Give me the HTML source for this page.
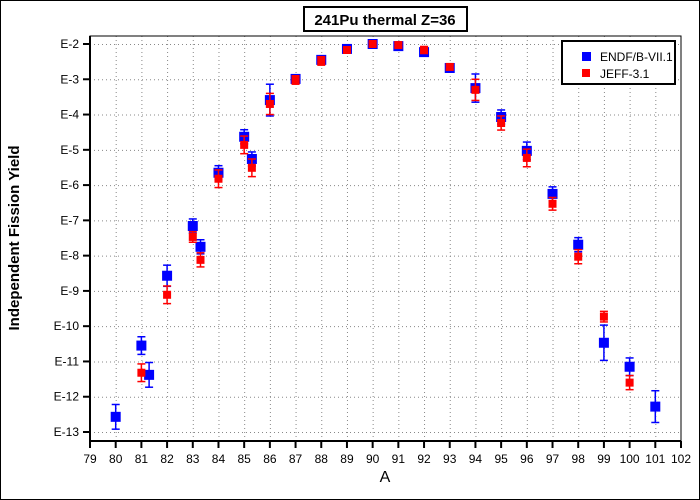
<!DOCTYPE html>
<html><head><meta charset="utf-8"><style>
body{margin:0;background:#fff;}
#wrap{position:relative;width:700px;height:500px;box-sizing:border-box;border:1px solid #000;background:#fff;font-family:"Liberation Sans",sans-serif;}
svg text{font-family:"Liberation Sans",sans-serif;}
</style></head><body>
<div id="wrap">
<svg id="chart" width="700" height="500" style="position:absolute;left:-1px;top:-1px"></svg>
</div>
<script>
const xTicks=[79,80,81,82,83,84,85,86,87,88,89,90,91,92,93,94,95,96,97,98,99,100,101,102];
const yTickExps=[-2,-3,-4,-5,-6,-7,-8,-9,-10,-11,-12,-13];
const yTickLabels=["E-2","E-3","E-4","E-5","E-6","E-7","E-8","E-9","E-10","E-11","E-12","E-13"];
const endfA=[80,81,81.3,82,83,83.3,84,85,85.3,86,87,88,89,90,91,92,93,94,95,96,97,98,99,100,101];
const endfLog=[-12.57,-10.55,-11.38,-8.57,-7.16,-7.75,-5.65,-4.63,-5.26,-3.59,-2.99,-2.45,-2.14,-2.0,-2.06,-2.23,-2.68,-3.25,-4.07,-5.03,-6.25,-7.69,-10.47,-11.15,-12.28];
const endfErr=[0.35,0.25,0.35,0.3,0.2,0.2,0.2,0.2,0.2,0.45,0.1,0.1,0.05,0.05,0.05,0.08,0.1,0.4,0.2,0.25,0.2,0.2,0.5,0.25,0.45];
const jeffA=[81,82,83,83.3,84,85,85.3,86,87,88,89,90,91,92,93,94,95,96,97,98,99,100];
const jeffLog=[-11.32,-9.11,-7.47,-8.12,-5.82,-4.86,-5.51,-3.7,-3.02,-2.48,-2.17,-2.0,-2.03,-2.17,-2.65,-3.3,-4.24,-5.23,-6.53,-8.03,-9.73,-11.6];
const jeffErr=[0.25,0.25,0.15,0.2,0.25,0.25,0.25,0.3,0.12,0.12,0.06,0.04,0.05,0.1,0.08,0.3,0.2,0.25,0.18,0.2,0.15,0.2];

const NS="http://www.w3.org/2000/svg";
const svg=document.getElementById('chart');
const L=90,R=681,T=36,B=441;
const xS=a=>L+(a-79)*(R-L)/23;
const yS=e=>44+(-2-e)*(432-44)/11;
function mk(tag,attrs,parent){const el=document.createElementNS(NS,tag);for(const k in attrs)el.setAttribute(k,attrs[k]);(parent||svg).appendChild(el);return el;}

const tb=mk('rect',{x:304,y:7,width:163,height:24,fill:'#fff',stroke:'#000','stroke-width':2});


const tt=mk('text',{x:385,y:25,'text-anchor':'middle','font-size':15,'font-weight':'bold'});
tt.textContent='241Pu thermal Z=36';



const grid=mk('g',{stroke:'#888','stroke-width':1,'stroke-dasharray':'1,3'});


xTicks.forEach(t=>{if(t>79&&t<102)mk('line',{x1:xS(t)+.5,x2:xS(t)+.5,y1:T,y2:B},grid);});
yTickExps.forEach(e=>mk('line',{x1:L,x2:R,y1:yS(e)+.5,y2:yS(e)+.5},grid));

const fr=mk('rect',{x:L,y:T,width:R-L,height:B-T,fill:'none',stroke:'#000','stroke-width':1});


mk('line',{x1:L,x2:L,y1:T,y2:B,stroke:'#000','stroke-width':2});
mk('line',{x1:L,x2:R,y1:B,y2:B,stroke:'#000','stroke-width':2});

const xa=mk('g',{});


xTicks.forEach(t=>{
  mk('line',{x1:xS(t),x2:xS(t),y1:B,y2:B+7,stroke:'#000','stroke-width':2},xa);
  const tx=mk('text',{x:xS(t),y:B+22,'text-anchor':'middle','font-size':12},xa);
  tx.textContent=t;
  
  
});
const ya=mk('g',{});


yTickExps.forEach((e,i)=>{
  mk('line',{x1:L-7,x2:L,y1:yS(e),y2:yS(e),stroke:'#000','stroke-width':2},ya);
  const tx=mk('text',{x:L-11,y:yS(e)+4,'text-anchor':'end','font-size':12},ya);
  tx.textContent=yTickLabels[i];
  
  
});
const xl=mk('text',{x:385,y:482,'text-anchor':'middle','font-size':16});
xl.textContent='A';


const yl=mk('text',{x:0,y:0,'text-anchor':'middle','font-size':15,'font-weight':'bold',transform:'translate(19,238) rotate(-90)'});
yl.textContent='Independent Fission Yield';



function series(A,Lg,Er,color,size,name){
  const g=mk('g',{});
  
  
  A.forEach((a,i)=>{
    const x=xS(a),y=yS(Lg[i]),y1=yS(Lg[i]+Er[i]),y2=yS(Lg[i]-Er[i]);
    mk('line',{x1:x,x2:x,y1:y1,y2:y2,stroke:color,'stroke-width':1.5},g);
    mk('line',{x1:x-4,x2:x+4,y1:y1,y2:y1,stroke:color,'stroke-width':1.5},g);
    mk('line',{x1:x-4,x2:x+4,y1:y2,y2:y2,stroke:color,'stroke-width':1.5},g);
    const r=mk('rect',{x:x-size/2,y:y-size/2,width:size,height:size,fill:color},g);
    
    
  });
}
series(endfA,endfLog,endfErr,'#0000ff',10,'endf');
series(jeffA,jeffLog,jeffErr,'#ff0000',8,'jeff');

const lg=mk('g',{});


mk('rect',{x:562,y:41,width:113,height:43,fill:'#fff',stroke:'#000','stroke-width':2},lg);
mk('rect',{x:582,y:52,width:9,height:9,fill:'#0000ff'},lg);
const l1=mk('text',{x:600,y:61,'font-size':12},lg);l1.textContent='ENDF/B-VII.1';


mk('rect',{x:582,y:69,width:8,height:8,fill:'#ff0000'},lg);
const l2=mk('text',{x:600,y:78,'font-size':12},lg);l2.textContent='JEFF-3.1';


</script>
</body></html>
